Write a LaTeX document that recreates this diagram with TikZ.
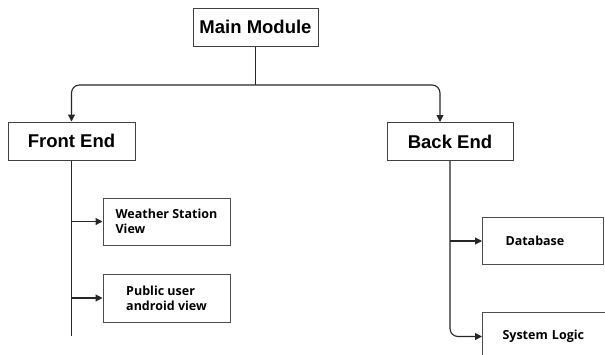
\documentclass[tikz,border=0pt]{standalone}
\usepackage{fontspec}
\setmainfont{Liberation Sans}
\newfontfamily\subfont{Open Sans}
\usetikzlibrary{arrows.meta}
\begin{document}
\begin{tikzpicture}[x=1pt,y=-1pt,
  line/.style={draw=black!85, line width=1.1pt},
  arr/.style={line, -{Triangle[length=7pt,width=7pt]}},
  headbox/.style={draw=black!75, line width=1pt, fill=white,
    font=\bfseries\fontsize{18.5}{21}\selectfont, minimum height=38pt, inner sep=0pt},
  itembox/.style={draw=black!70, line width=1pt, fill=white,
    font=\subfont\bfseries\fontsize{12.5}{15.3}\selectfont, align=left}]
\useasboundingbox (0,0) rectangle (605,354);
\clip (0,0) rectangle (605,354);

% top level and the two halves
\node[headbox, minimum width=125pt] (main)  at (255.5,27)  {Main Module};
\node[headbox, minimum width=127pt] (front) at (71.5,141)  {Front End};
\node[headbox, minimum width=126pt] (back)  at (450,141.5) {Back End};

% front end parts
\node[itembox, minimum width=127pt, minimum height=47pt] (ws) at (166.5,221.5) {Weather Station\\View};
\node[itembox, minimum width=127pt, minimum height=48pt] (pu) at (166.5,298)   {Public user\\android view};

% back end parts (the lower one runs off the bottom edge)
\node[itembox, anchor=north west, text width=75pt, inner xsep=23pt, minimum height=47pt] (db) at (482,217) {Database};
\node[itembox, anchor=north west, text width=120pt, inner xsep=20pt, minimum height=48pt] (sl) at (482,312) {System Logic};

% split below the main module
\coordinate (split) at (main.south |- 0,85);
\draw[line] (main.south) -- (split);
\draw[arr, rounded corners=8pt] (split) -| (front.north);
\draw[arr, rounded corners=8pt] (split) -| ([xshift=-10pt]back.north);

% front end spine
\coordinate (fend) at (front.south |- 0,336);
\draw[line] (front.south) -- (fend);
\draw[arr] (front.south |- ws.west) -- (ws.west);
\draw[arr] (front.south |- pu.west) -- (pu.west);

% back end spine
\draw[arr, rounded corners=8pt] (back.south) |- (sl.west);
\draw[arr] (back.south |- db.west) -- (db.west);
\end{tikzpicture}
\end{document}
